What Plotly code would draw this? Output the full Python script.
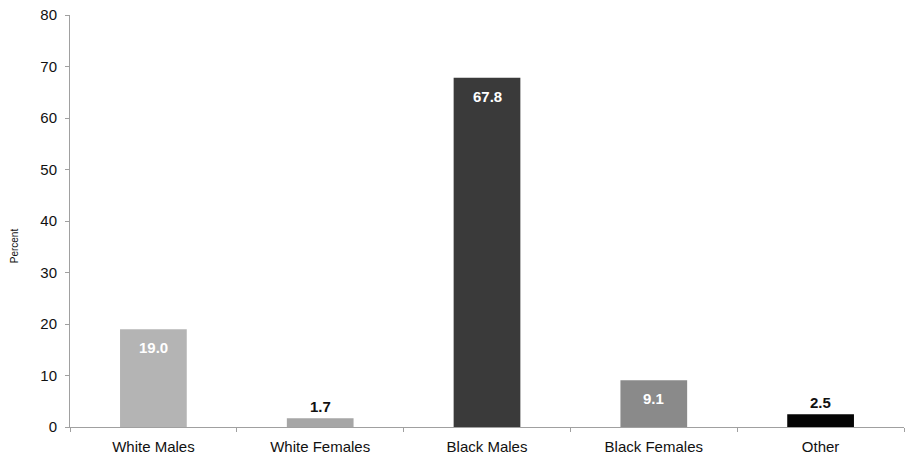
import plotly.graph_objects as go

categories = ["White Males", "White Females", "Black Males", "Black Females", "Other"]
values = [19.0, 1.7, 67.8, 9.1, 2.5]
value_labels = ["19.0", "1.7", "67.8", "9.1", "2.5"]
bar_colors = ["#b4b4b4", "#a6a6a6", "#3a3a3a", "#8a8a8a", "#050505"]
label_inside = [True, False, True, True, False]
y_ticks = [0, 10, 20, 30, 40, 50, 60, 70, 80]

FONT = "Arial, Liberation Sans, Helvetica, sans-serif"

fig = go.Figure(
    go.Bar(
        x=categories,
        y=values,
        marker=dict(color=bar_colors, line=dict(width=0)),
        width=0.4,
        hoverinfo="skip",
    )
)

for cat, val, lab, inside in zip(categories, values, value_labels, label_inside):
    if inside:
        fig.add_annotation(
            x=cat, y=val, text="<b>%s</b>" % lab, showarrow=False,
            yanchor="top", yshift=-8,
            font=dict(family=FONT, size=15, color="white"),
        )
    else:
        fig.add_annotation(
            x=cat, y=val, text="<b>%s</b>" % lab, showarrow=False,
            yanchor="bottom", yshift=1,
            font=dict(family=FONT, size=15, color="#111111"),
        )

fig.add_annotation(
    xref="paper", yref="paper", x=-0.067, y=0.439,
    xanchor="center", yanchor="middle",
    text="Percent", textangle=-90, showarrow=False,
    font=dict(family=FONT, size=10, color="#111111"),
)

fig.update_layout(
    width=905, height=458,
    margin=dict(l=70, r=1, t=15, b=31),
    paper_bgcolor="white", plot_bgcolor="white",
    showlegend=False,
    font=dict(family=FONT, color="#111111"),
    xaxis=dict(
        showline=True, linecolor="#a0a0a0", linewidth=1,
        ticks="outside", tickson="boundaries", ticklen=4, tickcolor="#a0a0a0",
        showgrid=False, zeroline=False,
        tickfont=dict(family=FONT, size=15, color="#111111"),
        ticklabelstandoff=6,
        range=[-0.5, 4.5],
    ),
    yaxis=dict(
        range=[0, 80], tickvals=y_ticks, ticktext=[str(v) for v in y_ticks],
        showline=True, linecolor="#a0a0a0", linewidth=1,
        ticks="outside", ticklen=4, tickcolor="#a0a0a0",
        showgrid=False, zeroline=False,
        tickfont=dict(family=FONT, size=15, color="#111111"),
        ticklabelstandoff=5,
    ),
)

fig.write_html("out.html")
